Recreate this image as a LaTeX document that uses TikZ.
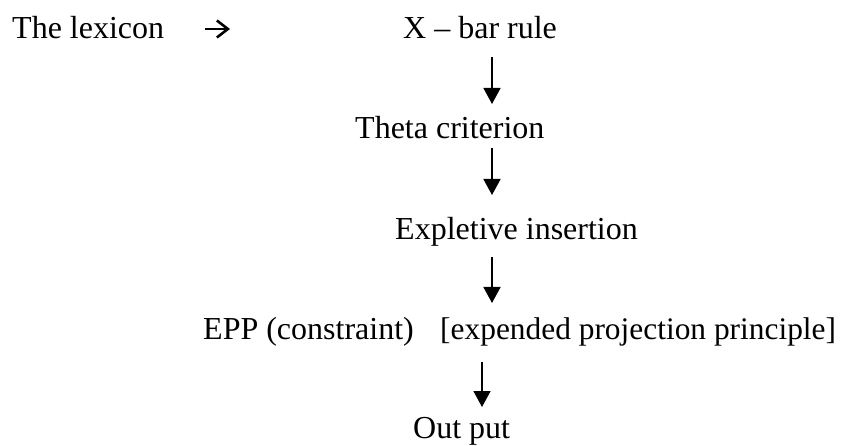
\documentclass[tikz,border=0pt]{standalone}
\usepackage{fontspec}
\setmainfont{Liberation Serif}
\usetikzlibrary{arrows.meta}
\begin{document}
\begin{tikzpicture}[x=1pt,y=-1pt,
  lbl/.style={anchor=base west,inner sep=0pt,font=\fontsize{32}{38}\selectfont},
  downarr/.style={line width=1.7pt,-{Triangle[width=17pt,length=16pt]}},
  sidearr/.style={line width=2.6pt,-{Straight Barb[length=11pt,width=17pt,line width=2.6pt]}}]
\useasboundingbox (0,0) rectangle (841,446);
\node[lbl] (lex)   at (12,39)  {The lexicon};
\node[lbl] (xbar)  at (403,39) {X – bar rule};
\node[lbl] (theta) at (355,139) {Theta criterion};
\node[lbl] (expl)  at (395,240) {Expletive insertion};
\node[lbl] (epp)   at (203,340) {EPP (constraint)};
\node[lbl,font=\fontsize{31.4}{38}\selectfont] (epc) at (440,340) {[expended projection principle]};
\node[lbl] (out)   at (413,438) {Out put};
% side arrow
\coordinate (s0) at (205,29);
\coordinate (s1) at (230,29);
\draw[sidearr] (s0) -- (s1);
% down arrows
\coordinate (a1) at (492,57);  \coordinate (b1) at (492,104);
\coordinate (a2) at (492,148); \coordinate (b2) at (492,195);
\coordinate (a3) at (492,257); \coordinate (b3) at (492,303);
\coordinate (a4) at (482,362); \coordinate (b4) at (482,407);
\draw[downarr] (a1) -- (b1);
\draw[downarr] (a2) -- (b2);
\draw[downarr] (a3) -- (b3);
\draw[downarr] (a4) -- (b4);
\end{tikzpicture}
\end{document}
